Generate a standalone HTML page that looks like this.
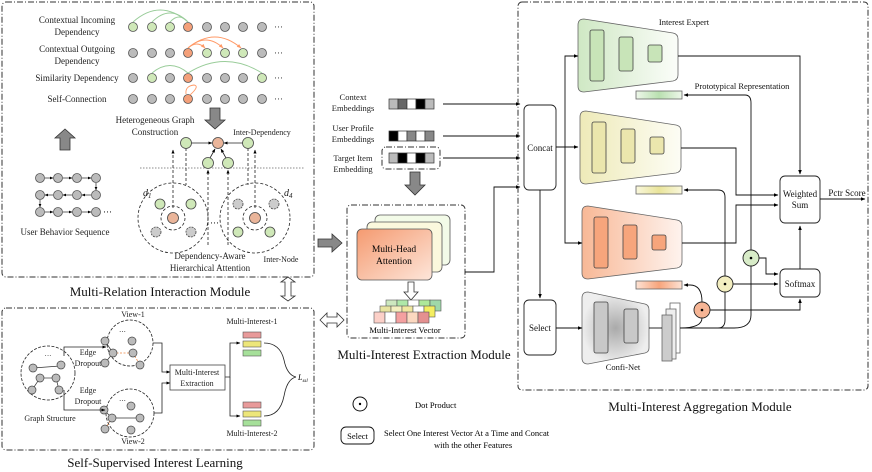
<!DOCTYPE html>
<html><head><meta charset="utf-8"><style>
html,body{margin:0;padding:0;background:#fff}
svg{display:block;font-family:"Liberation Serif",serif}
</style></head><body>
<svg width="872" height="472" viewBox="0 0 872 472" xmlns="http://www.w3.org/2000/svg">
<defs>
<marker id="a" viewBox="0 0 10 10" refX="9" refY="5" markerWidth="5" markerHeight="5" orient="auto"><path d="M0,1L10,5L0,9z" fill="#000"/></marker>
<marker id="ao" viewBox="0 0 10 10" refX="9" refY="5" markerWidth="5" markerHeight="5" orient="auto"><path d="M0,1L10,5L0,9z" fill="#f96"/></marker>
<linearGradient id="gG" x1="0" x2="1"><stop offset="0" stop-color="#cfe8c4"/><stop offset="1" stop-color="#fbfdf9"/></linearGradient>
<linearGradient id="gY" x1="0" x2="1"><stop offset="0" stop-color="#eeeab8"/><stop offset="1" stop-color="#fdfdf5"/></linearGradient>
<linearGradient id="gO" x1="0" x2="1"><stop offset="0" stop-color="#f8b896"/><stop offset="1" stop-color="#fef3ee"/></linearGradient>
<radialGradient id="gC"><stop offset="0" stop-color="#aaa"/><stop offset="1" stop-color="#eee"/></radialGradient>
<linearGradient id="pG" x1="0" x2="1"><stop offset="0" stop-color="#eef7ea"/><stop offset=".5" stop-color="#b9e0b0"/><stop offset="1" stop-color="#eef7ea"/></linearGradient>
<linearGradient id="pY" x1="0" x2="1"><stop offset="0" stop-color="#f9f7dc"/><stop offset=".5" stop-color="#e9e49a"/><stop offset="1" stop-color="#f9f7dc"/></linearGradient>
<linearGradient id="pO" x1="0" x2="1"><stop offset="0" stop-color="#fde3d5"/><stop offset=".5" stop-color="#f7a47b"/><stop offset="1" stop-color="#fde3d5"/></linearGradient>
<linearGradient id="mh" x1="0" y1="0" x2="1" y2="1"><stop offset="0" stop-color="#f59a70"/><stop offset="1" stop-color="#fde6da"/></linearGradient>
</defs>
<g fill="none" stroke="#333" stroke-width="1" stroke-dasharray="6,2,1,2">
<rect x="2" y="2" width="312" height="275" rx="4"/>
<rect x="2" y="308" width="312" height="142" rx="4"/>
<rect x="518" y="2" width="350" height="388" rx="4"/>
<rect x="347" y="205" width="118" height="133" rx="4"/>
<rect x="382" y="147" width="58" height="22" rx="4"/>
</g>
<g font-size="13" text-anchor="middle" fill="#111">
<text x="160" y="296">Multi-Relation Interaction Module</text>
<text x="155" y="467">Self-Supervised Interest Learning</text>
<text x="424" y="359">Multi-Interest Extraction Module</text>
<text x="700" y="411">Multi-Interest Aggregation Module</text>
</g>
<g font-size="9" text-anchor="middle" fill="#222">
<text x="77" y="23">Contextual Incoming</text><text x="77" y="35">Dependency</text>
<text x="77" y="52">Contextual Outgoing</text><text x="77" y="64">Dependency</text>
<text x="77" y="81">Similarity Dependency</text>
<text x="77" y="102">Self-Connection</text>
</g>
<g stroke="#555" stroke-width=".8">
<g fill="#bbb">
<circle cx="225" cy="27" r="4.5"/><circle cx="243" cy="27" r="4.5"/><circle cx="262" cy="27" r="4.5"/><circle cx="207" cy="27" r="4.5"/>
<circle cx="133" cy="53" r="4.5"/><circle cx="152" cy="53" r="4.5"/><circle cx="170" cy="53" r="4.5"/><circle cx="262" cy="53" r="4.5"/>
<circle cx="133" cy="78" r="4.5"/><circle cx="170" cy="78" r="4.5"/><circle cx="207" cy="78" r="4.5"/><circle cx="225" cy="78" r="4.5"/><circle cx="243" cy="78" r="4.5"/>
<circle cx="133" cy="99" r="4.5"/><circle cx="152" cy="99" r="4.5"/><circle cx="170" cy="99" r="4.5"/><circle cx="207" cy="99" r="4.5"/><circle cx="225" cy="99" r="4.5"/><circle cx="243" cy="99" r="4.5"/><circle cx="262" cy="99" r="4.5"/>
</g>
<g fill="#cfe8b8">
<circle cx="133" cy="27" r="4.5"/><circle cx="152" cy="27" r="4.5"/><circle cx="170" cy="27" r="4.5"/>
<circle cx="207" cy="53" r="4.5"/><circle cx="225" cy="53" r="4.5"/><circle cx="243" cy="53" r="4.5"/>
<circle cx="152" cy="78" r="4.5"/><circle cx="262" cy="78" r="4.5"/>
</g>
<g fill="#f4a07a"><circle cx="188" cy="27" r="4.5"/><circle cx="188" cy="53" r="4.5"/><circle cx="188" cy="78" r="4.5"/><circle cx="188" cy="99" r="4.5"/></g>
</g>
<g font-size="9" fill="#333"><text x="274" y="30">···</text><text x="274" y="56">···</text><text x="274" y="81">···</text><text x="274" y="102">···</text></g>
<g fill="none" stroke="#9c9" stroke-width=".9">
<path d="M188,22 Q160,-2 133,22"/><path d="M188,22 Q170,4 152,22"/><path d="M188,22 Q179,12 170,22"/>
<path d="M188,73 Q170,58 152,73"/><path d="M188,73 Q225,50 262,73"/>
</g>
<g fill="none" stroke="#f96" stroke-width=".9">
<path d="M188,48 Q197,40 205,48" marker-end="url(#ao)"/><path d="M188,48 Q206,32 223,48" marker-end="url(#ao)"/><path d="M188,48 Q215,26 241,48" marker-end="url(#ao)"/>
<path d="M190,95 Q200,86 194,85 Q185,86 186,94"/>
</g>
<g fill="#888" stroke="#333" stroke-width=".8">
<path d="M210,108h10v12h5l-10,9l-10,-9h5z"/>
<path d="M60,150v-12h-5l10,-9l10,9h-5v12z"/>
<path d="M410,172h10v13h5l-10,10l-10,-10h5z"/>
<path d="M318,239h14v-5l10,9l-10,9v-5h-14z"/>
</g>
<g fill="#fff" stroke="#333" stroke-width=".8">
<path d="M285,280l7,-5l7,5h-4v14h4l-7,5l-7,-5h4v-14z" transform="translate(-4,2)"/>
<path d="M320,320l7,-7v4h10v-4l7,7l-7,7v-4h-10v4z"/>
<path d="M408,282h6v10h4l-7,8l-7,-8h4z"/>
</g>
<g font-size="9" text-anchor="middle" fill="#222">
<text x="155" y="123">Heterogeneous Graph</text><text x="155" y="135">Construction</text>
<text x="262" y="135" font-size="8">Inter-Dependency</text>
<text x="210" y="259">Dependency-Aware</text><text x="210" y="271">Hierarchical Attention</text>
<text x="281" y="262" font-size="8">Inter-Node</text>
<text x="65" y="235">User Behavior Sequence</text>
</g>
<line x1="140" y1="168" x2="305" y2="168" stroke="#666" stroke-dasharray="1.5,1.5" stroke-width=".8"/>
<g stroke="#222" stroke-width=".8" fill="none">
<line x1="191" y1="143" x2="212" y2="143" marker-end="url(#a)"/><line x1="243" y1="143" x2="224" y2="143" marker-end="url(#a)"/>
<line x1="210" y1="158" x2="215" y2="149" marker-end="url(#a)"/><line x1="226" y1="158" x2="221" y2="149" marker-end="url(#a)"/>
<g stroke-dasharray="3,2">
<path d="M173,208V150" marker-end="url(#a)"/><path d="M255,208V150" marker-end="url(#a)"/>
<path d="M208,245V170" marker-end="url(#a)"/><path d="M228,245V170" marker-end="url(#a)"/>
<path d="M186,148V185" /><path d="M248,148V185"/>
<circle cx="173" cy="218" r="35"/><circle cx="173" cy="218" r="12"/>
<circle cx="255" cy="218" r="35"/><circle cx="255" cy="218" r="12"/>
</g>
</g>
<g stroke="#444" stroke-width=".8">
<circle cx="218" cy="143" r="5.5" fill="#eab59a"/>
<g fill="#cfe8b8"><circle cx="186" cy="143" r="5.5"/><circle cx="248" cy="143" r="5.5"/><circle cx="208" cy="163" r="5.5"/><circle cx="228" cy="163" r="5.5"/>
<circle cx="160" cy="204" r="5"/><circle cx="191" cy="204" r="5"/><circle cx="238" cy="232" r="5"/><circle cx="270" cy="232" r="5"/></g>
<g fill="#ccc" stroke-dasharray="2,1"><circle cx="156" cy="232" r="5"/><circle cx="191" cy="232" r="5"/><circle cx="238" cy="204" r="5"/><circle cx="274" cy="204" r="5"/></g>
<circle cx="173" cy="218" r="5.5" fill="#eab59a"/><circle cx="255" cy="218" r="5.5" fill="#eab59a"/>
</g>
<g font-size="10" font-style="italic" fill="#222"><text x="143" y="196">d<tspan font-size="7" dy="2">1</tspan></text><text x="284" y="196">d<tspan font-size="7" dy="2">4</tspan></text></g>
<text x="210" y="226" font-size="9">···</text>
<g stroke="#555" stroke-width=".8" fill="#bbb">
<circle cx="40" cy="178" r="4.5"/><circle cx="58" cy="178" r="4.5"/><circle cx="77" cy="178" r="4.5"/><circle cx="96" cy="178" r="4.5"/>
<circle cx="40" cy="195" r="4.5"/><circle cx="58" cy="195" r="4.5"/><circle cx="77" cy="195" r="4.5"/><circle cx="96" cy="195" r="4.5"/>
<circle cx="40" cy="212" r="4.5"/><circle cx="58" cy="212" r="4.5"/><circle cx="77" cy="212" r="4.5"/><circle cx="96" cy="212" r="4.5"/>
</g>
<g stroke="#222" stroke-width=".7" marker-end="url(#a)">
<line x1="45" y1="178" x2="53" y2="178"/><line x1="63" y1="178" x2="72" y2="178"/><line x1="82" y1="178" x2="91" y2="178"/>
<line x1="96" y1="183" x2="96" y2="190"/><line x1="91" y1="195" x2="82" y2="195"/><line x1="72" y1="195" x2="63" y2="195"/><line x1="53" y1="195" x2="45" y2="195"/>
<line x1="40" y1="200" x2="40" y2="207"/><line x1="45" y1="212" x2="53" y2="212"/><line x1="63" y1="212" x2="72" y2="212"/><line x1="82" y1="212" x2="91" y2="212"/>
</g>
<text x="103" y="215" font-size="9">···</text>
<g font-size="8.5" text-anchor="middle" fill="#222">
<text x="353" y="100">Context</text><text x="353" y="111">Embeddings</text>
<text x="353" y="131">User Profile</text><text x="353" y="142">Embeddings</text>
<text x="353" y="161">Target Item</text><text x="353" y="172">Embedding</text>
</g>
<g stroke="#333" stroke-width=".7">
<rect x="389" y="99" width="9" height="10" fill="#bbb"/><rect x="398" y="99" width="9" height="10" fill="#666"/><rect x="407" y="99" width="9" height="10" fill="#fff"/><rect x="416" y="99" width="9" height="10" fill="#000"/><rect x="425" y="99" width="9" height="10" fill="#bbb"/>
<rect x="389" y="131" width="9" height="10" fill="#000"/><rect x="398" y="131" width="9" height="10" fill="#fff"/><rect x="407" y="131" width="9" height="10" fill="#888"/><rect x="416" y="131" width="9" height="10" fill="#fff"/><rect x="425" y="131" width="9" height="10" fill="#888"/>
<rect x="389" y="153" width="9" height="10" fill="#bbb"/><rect x="398" y="153" width="9" height="10" fill="#000"/><rect x="407" y="153" width="9" height="10" fill="#fff"/><rect x="416" y="153" width="9" height="10" fill="#000"/><rect x="425" y="153" width="9" height="10" fill="#bbb"/>
</g>
<g stroke="#111" stroke-width=".9" fill="none" marker-end="url(#a)">
<line x1="443" y1="104" x2="520" y2="104"/><line x1="443" y1="136" x2="520" y2="136"/><line x1="443" y1="158" x2="520" y2="158"/>
<path d="M465,272H494V187H520"/>
</g>
<rect x="375" y="215" width="75" height="50" rx="5" fill="#f3fbe8" stroke="#555" stroke-width=".8"/>
<rect x="367" y="222" width="75" height="50" rx="5" fill="#fbf8dd" stroke="#555" stroke-width=".8"/>
<rect x="357" y="229" width="75" height="51" rx="5" fill="url(#mh)" stroke="#555" stroke-width=".8"/>
<text x="394" y="252" font-size="9.5" text-anchor="middle">Multi-Head</text><text x="394" y="264" font-size="9.5" text-anchor="middle">Attention</text>
<g stroke="#555" stroke-width=".6">
<rect x="386" y="300" width="11" height="11" fill="#cde8bf"/><rect x="397" y="300" width="11" height="11" fill="#aee8a8"/><rect x="408" y="300" width="11" height="11" fill="#fff"/><rect x="419" y="300" width="11" height="11" fill="#aee89a"/><rect x="430" y="300" width="11" height="11" fill="#9fd8a8"/>
<rect x="380" y="306" width="11" height="11" fill="#e8e4a0"/><rect x="391" y="306" width="11" height="11" fill="#f4f0c0"/><rect x="402" y="306" width="11" height="11" fill="#f0e8a0"/><rect x="413" y="306" width="11" height="11" fill="#fff"/><rect x="424" y="306" width="11" height="11" fill="#f4ee60"/>
<rect x="374" y="312" width="11" height="11" fill="#fcd0c8"/><rect x="385" y="312" width="11" height="11" fill="#fff"/><rect x="396" y="312" width="11" height="11" fill="#f4a0a0"/><rect x="407" y="312" width="11" height="11" fill="#fcd8c0"/><rect x="418" y="312" width="11" height="11" fill="#e49090"/>
</g>
<text x="405" y="333" font-size="8.5" text-anchor="middle">Multi-Interest Vector</text>
<g stroke="#222" stroke-width=".9" fill="#fff">
<rect x="524" y="105" width="32" height="85" rx="5"/><rect x="524" y="300" width="32" height="55" rx="5"/>
<rect x="780" y="176" width="40" height="47" rx="5"/><rect x="780" y="269" width="40" height="28" rx="5"/>
</g>
<g font-size="9" text-anchor="middle" fill="#111">
<text x="540" y="151">Concat</text><text x="540" y="331">Select</text>
<text x="800" y="197">Weighted</text><text x="800" y="208">Sum</text><text x="800" y="287">Softmax</text>
<text x="847" y="196">Pctr Score</text>
<text x="684" y="25" font-size="8.5">Interest Expert</text>
<text x="742" y="89" font-size="8.5">Prototypical Representation</text>
<text x="623" y="370" font-size="8.5">Confi-Net</text>
</g>
<g stroke="#666" stroke-width=".8">
<path d="M584,19 L673,33 Q678,34 678,39 V75 Q678,80 673,81 L584,92 Q578,92 578,86 V25 Q578,19 584,19z" fill="url(#gG)"/>
<path d="M586,111 L676,125 Q681,126 681,131 V167 Q681,172 676,173 L586,184 Q580,184 580,178 V117 Q580,111 586,111z" fill="url(#gY)"/>
<path d="M588,206 L677,220 Q682,221 682,226 V262 Q682,267 677,268 L588,279 Q582,279 582,273 V212 Q582,206 588,206z" fill="url(#gO)"/>
<path d="M588,292 L645,304 Q649,305 649,310 V348 Q649,352 645,353 L588,364 Q582,364 582,358 V298 Q582,292 588,292z" fill="url(#gC)"/>
<g stroke="#444">
<rect x="590" y="30" width="14" height="51" rx="2" fill="#c8e4b8"/><rect x="619" y="37" width="14" height="34" rx="2" fill="#c8e4b8"/><rect x="648" y="45" width="14" height="17" rx="2" fill="#c8e4b8"/>
<rect x="592" y="122" width="14" height="51" rx="2" fill="#ebe6ad"/><rect x="621" y="129" width="14" height="34" rx="2" fill="#ebe6ad"/><rect x="650" y="137" width="14" height="17" rx="2" fill="#ebe6ad"/>
<rect x="594" y="217" width="14" height="51" rx="2" fill="#f7a57c"/><rect x="623" y="225" width="14" height="34" rx="2" fill="#f7a57c"/><rect x="652" y="235" width="14" height="15" rx="2" fill="#f7a57c"/>
<rect x="594" y="302" width="14" height="51" rx="2" fill="#c8c8c8"/><rect x="624" y="309" width="14" height="34" rx="2" fill="#c8c8c8"/>
</g>
<rect x="636" y="91" width="46" height="8" fill="url(#pG)"/><rect x="636" y="186" width="46" height="8" fill="url(#pY)"/><rect x="636" y="281" width="46" height="8" fill="url(#pO)"/>
<rect x="670" y="303" width="10" height="50" fill="#fff"/><rect x="666" y="309" width="10" height="50" fill="#eee"/><rect x="662" y="315" width="10" height="46" fill="#ccc"/>
</g>
<g stroke="#111" stroke-width=".9" fill="none">
<path d="M556,147H565V56H578" marker-end="url(#a)"/><path d="M556,147H578" marker-end="url(#a)"/><path d="M565,147V243H582" marker-end="url(#a)"/>
<path d="M540,190V298" marker-end="url(#a)"/><path d="M556,328H582" marker-end="url(#a)"/><path d="M649,328H662"/>
<path d="M678,56H800V174" marker-end="url(#a)"/>
<path d="M681,148H736V195H778" marker-end="url(#a)"/>
<path d="M682,243H736V205H778" marker-end="url(#a)"/>
<path d="M820,199H865" marker-end="url(#a)"/>
<path d="M800,269V226" marker-end="url(#a)"/>
<path d="M680,328H734Q751,328 751,315V103Q751,95 745,95H684" marker-end="url(#a)"/>
<path d="M680,328H718Q725,328 725,320V197Q725,190 718,190H684" marker-end="url(#a)"/>
<path d="M680,328Q702,328 702,318" /><path d="M702,302Q702,285 690,285H684" marker-end="url(#a)"/>
<path d="M759,258H766V274H778" marker-end="url(#a)"/>
<path d="M733,284H778" marker-end="url(#a)"/>
<path d="M710,310H800V299" marker-end="url(#a)"/>
</g>
<g stroke="#222" stroke-width=".9">
<circle cx="751" cy="258" r="8" fill="#d8ecc8"/><circle cx="725" cy="284" r="8" fill="#f3eec0"/><circle cx="702" cy="310" r="8" fill="#f6b595"/>
</g>
<g fill="#000"><circle cx="751" cy="258" r="1.3"/><circle cx="725" cy="284" r="1.3"/><circle cx="702" cy="310" r="1.3"/></g>
<!-- self-supervised -->
<g stroke="#222" stroke-width=".8" fill="none" stroke-dasharray="3,1.5">
<circle cx="48" cy="373" r="27"/><circle cx="130" cy="343" r="23"/><circle cx="130" cy="413" r="24"/>
</g>
<g stroke="#333" stroke-width=".7">
<line x1="33" y1="368" x2="60" y2="366"/><line x1="40" y1="378" x2="56" y2="378"/><line x1="40" y1="378" x2="32" y2="390"/><line x1="56" y1="378" x2="59" y2="390"/>
</g>
<g transform="translate(-13,6)">
<g stroke="#333" stroke-width=".7"><line x1="118" y1="335" x2="126" y2="347"/><line x1="126" y1="347" x2="118" y2="357"/></g>
<g stroke="#e84" stroke-width=".8" stroke-dasharray="2,1.5"><line x1="126" y1="347" x2="146" y2="347"/><line x1="146" y1="347" x2="153" y2="359"/></g>
<g fill="#bbb" stroke="#444" stroke-width=".7"><circle cx="118" cy="335" r="4"/><circle cx="145" cy="335" r="4"/><circle cx="126" cy="347" r="4"/><circle cx="146" cy="347" r="4"/><circle cx="118" cy="357" r="4"/><circle cx="153" cy="359" r="4"/></g>
<text x="132" y="328" font-size="7">···</text>
</g>
<g transform="translate(-13,8)">
<g stroke="#333" stroke-width=".7"><line x1="125" y1="410" x2="153" y2="410"/><line x1="117" y1="402" x2="125" y2="410"/></g>
<g stroke="#e84" stroke-width=".8" stroke-dasharray="2,1.5"><line x1="125" y1="410" x2="118" y2="421"/></g>
<g fill="#bbb" stroke="#444" stroke-width=".7"><circle cx="117" cy="402" r="4"/><circle cx="144" cy="398" r="4"/><circle cx="125" cy="410" r="4"/><circle cx="153" cy="410" r="4"/><circle cx="118" cy="421" r="4"/><circle cx="144" cy="422" r="4"/></g>
<text x="132" y="395" font-size="7">···</text>
</g>
<g fill="#bbb" stroke="#444" stroke-width=".7">
<circle cx="33" cy="368" r="4"/><circle cx="61" cy="365" r="4"/><circle cx="40" cy="378" r="4"/><circle cx="56" cy="378" r="4"/><circle cx="32" cy="390" r="4"/><circle cx="59" cy="390" r="4"/>
</g>
<g stroke="#222" stroke-width=".8" fill="none">
<path d="M64,356V347H106" marker-end="url(#a)"/><path d="M64,390V410H105" marker-end="url(#a)"/>
<path d="M153,343H162V372H170" marker-end="url(#a)"/><path d="M154,413H162V383H170" marker-end="url(#a)"/>
<path d="M225,377H230V343H240" marker-end="url(#a)"/><path d="M230,377V416H240" marker-end="url(#a)"/>
<path d="M264,343Q280,343 284,360Q287,375 296,377"/><path d="M264,416Q280,416 284,396Q287,379 296,377"/>
</g>
<rect x="170" y="365" width="55" height="25" fill="#fff" stroke="#444" stroke-width=".8"/>
<g font-size="8" text-anchor="middle" fill="#222">
<text x="197" y="375">Multi-Interest</text><text x="197" y="386">Extraction</text>
<text x="88" y="355">Edge</text><text x="88" y="366">Dropout</text>
<text x="88" y="393">Edge</text><text x="88" y="404">Dropout</text>
<text x="133" y="317">View-1</text><text x="133" y="444">View-2</text>
<text x="50" y="421">Graph Structure</text>
<text x="252" y="324">Multi-Interest-1</text><text x="252" y="436">Multi-Interest-2</text>
<text x="48" y="358" font-size="7">···</text>
</g>
<text x="298" y="380" font-size="8" font-style="italic">L<tspan font-size="5" dy="2">ssl</tspan></text>
<g stroke="#555" stroke-width=".6">
<rect x="243" y="332" width="18" height="6" fill="#e89a9a"/><rect x="243" y="341" width="18" height="6" fill="#ede67a"/><rect x="243" y="350" width="18" height="6" fill="#a6e09a"/>
<rect x="243" y="402" width="18" height="6" fill="#e89a9a"/><rect x="243" y="411" width="18" height="6" fill="#ede67a"/><rect x="243" y="420" width="18" height="6" fill="#a6e09a"/>
</g>
<circle cx="360" cy="404" r="7" fill="#fff" stroke="#111" stroke-width="1"/><circle cx="360" cy="404" r="1.2" fill="#000"/>
<text x="415" y="408" font-size="8.5">Dot Product</text>
<rect x="341" y="427" width="33" height="17" rx="5" fill="#fff" stroke="#111" stroke-width=".9"/>
<text x="357.5" y="439" font-size="8.5" text-anchor="middle">Select</text>
<text x="384" y="436" font-size="8.5">Select One Interest Vector At a Time  and Concat</text>
<text x="434" y="448" font-size="8.5">with the other Features</text>
</svg>
</body></html>
